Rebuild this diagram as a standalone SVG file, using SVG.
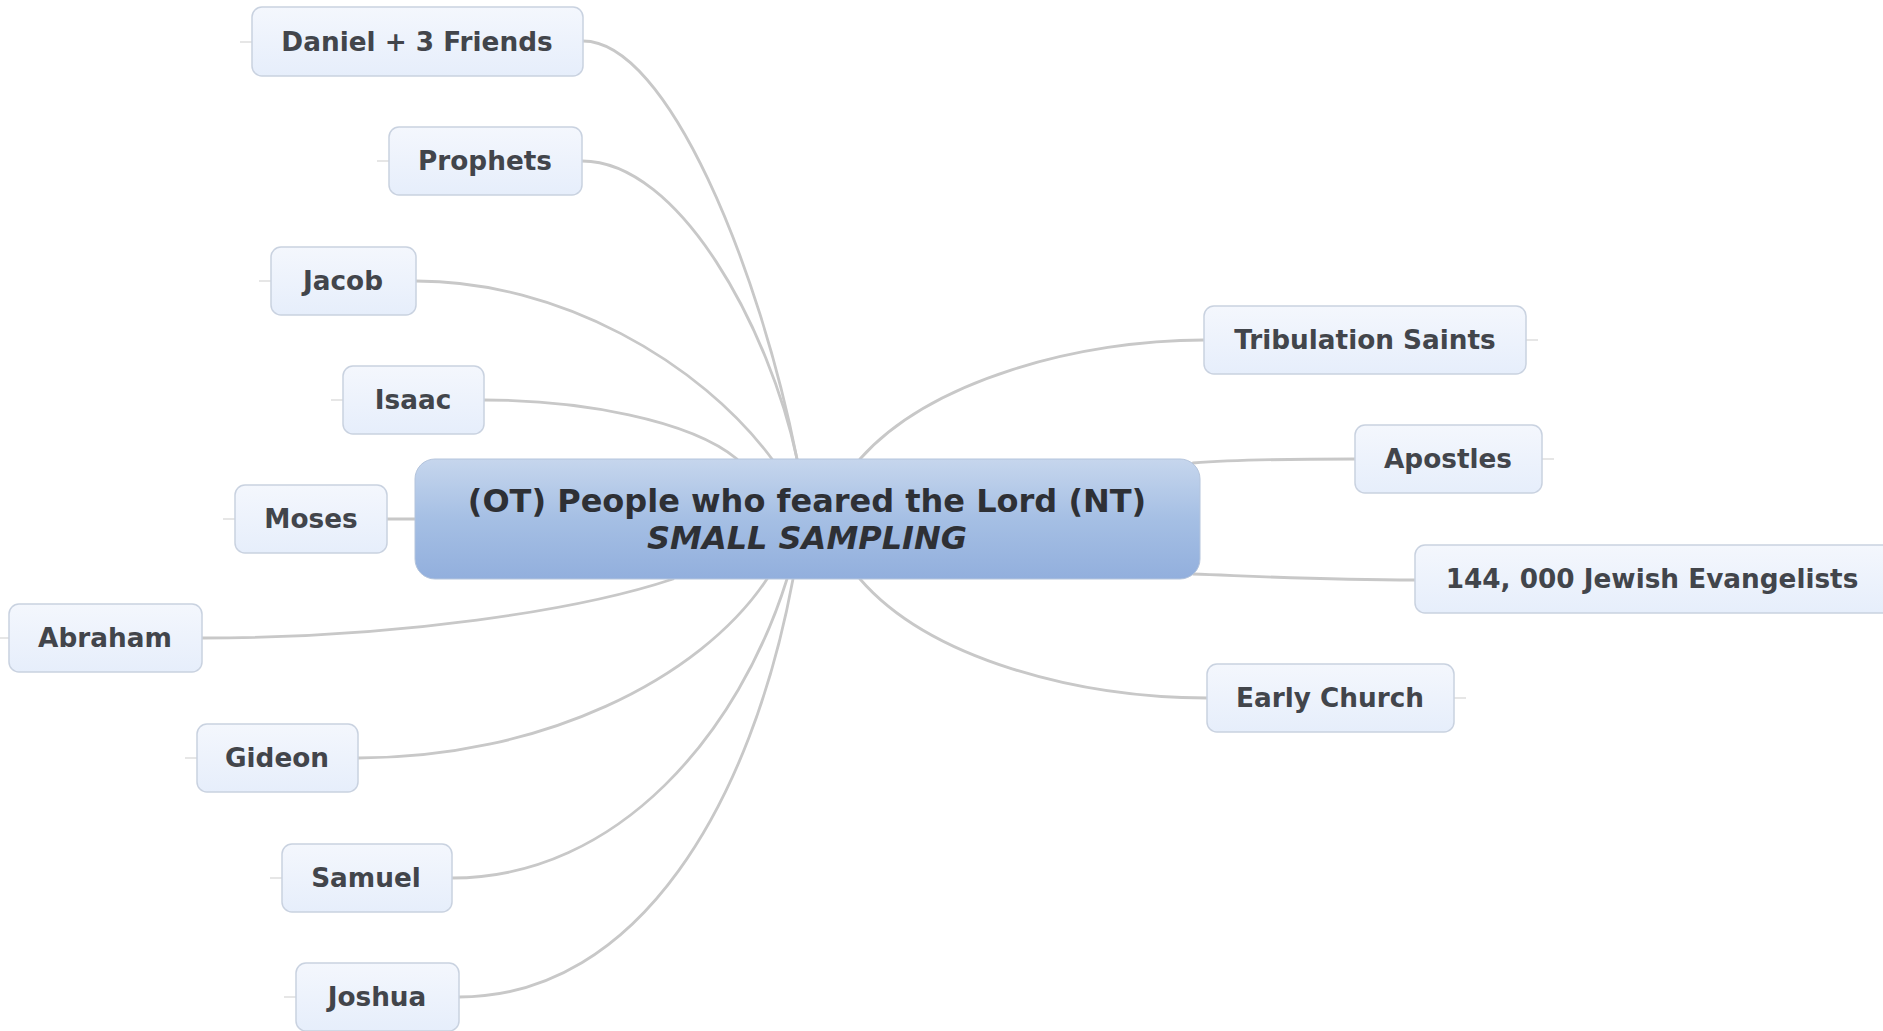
<svg xmlns="http://www.w3.org/2000/svg" width="1883" height="1031" viewBox="0 0 1883 1031">
<defs>
<linearGradient id="gChild" x1="0" y1="0" x2="0" y2="1">
<stop offset="0" stop-color="#f4f7fd"/>
<stop offset="1" stop-color="#e6eefb"/>
</linearGradient>
<linearGradient id="gCenter" x1="0" y1="0" x2="0" y2="1">
<stop offset="0" stop-color="#c6d6ed"/>
<stop offset="0.5" stop-color="#a5bfe4"/>
<stop offset="1" stop-color="#92afdd"/>
</linearGradient>
</defs>
<style>
.bg{fill:#ffffff}
.child rect{fill:url(#gChild);stroke:#c9d2e0;stroke-width:1.5}
.child text{font-family:"DejaVu Sans",Verdana,sans-serif;font-weight:bold;font-size:26.3px;fill:#42454b;text-anchor:middle}
.stub{stroke:#d6d6d6;stroke-width:1.2}
.conn path{fill:none;stroke:#c8c8c8;stroke-width:2.8;stroke-linecap:round}
.center rect{fill:url(#gCenter);stroke:#b4c4dc;stroke-width:1}
.center text{font-family:"DejaVu Sans",Verdana,sans-serif;font-weight:bold;font-size:32px;fill:#2e3035;text-anchor:middle}
</style>
<rect class="bg" x="0" y="0" width="1883" height="1031"/>
<g id="connectors" class="conn">
<path d="M583,41 C668,41 760,270 797,459"/>
<path d="M582,161 C680,161 770,330 797,459"/>
<path d="M416,281 C560,281 700,362 772,459"/>
<path d="M484,400 C580,400 690,420 737,459"/>
<path d="M387,519 L415,519"/>
<path d="M202,638 C400,638 580,610 673,579"/>
<path d="M358,758 C540,758 700,680 767,579"/>
<path d="M452,878 C620,878 740,730 787,579"/>
<path d="M459,997 C640,997 752,800 793,579"/>
<path d="M1204,340 C1080,340 930,380 860,459"/>
<path d="M1355,459 C1280,459 1230,460 1193,463"/>
<path d="M1415,580 C1320,580 1250,576 1193,574"/>
<path d="M1207,698 C1080,698 930,660 860,579"/>
</g>
<g id="node-center" class="center">
<rect x="415" y="459" width="785" height="120" rx="20"/>
<text x="807" y="512">(OT) People who feared the Lord (NT)</text>
<text x="807" y="549" font-style="italic">SMALL SAMPLING</text>
</g>
<g id="node-daniel" class="child">
<line class="stub" x1="240" y1="42" x2="252" y2="42"/>
<rect x="252" y="7" width="331" height="69" rx="10"/>
<text x="417" y="51">Daniel + 3 Friends</text>
</g>
<g id="node-prophets" class="child">
<line class="stub" x1="377" y1="161" x2="389" y2="161"/>
<rect x="389" y="127" width="193" height="68" rx="10"/>
<text x="485" y="170">Prophets</text>
</g>
<g id="node-jacob" class="child">
<line class="stub" x1="259" y1="281" x2="271" y2="281"/>
<rect x="271" y="247" width="145" height="68" rx="10"/>
<text x="343" y="290">Jacob</text>
</g>
<g id="node-isaac" class="child">
<line class="stub" x1="331" y1="400" x2="343" y2="400"/>
<rect x="343" y="366" width="141" height="68" rx="10"/>
<text x="413" y="409">Isaac</text>
</g>
<g id="node-moses" class="child">
<line class="stub" x1="223" y1="519" x2="235" y2="519"/>
<rect x="235" y="485" width="152" height="68" rx="10"/>
<text x="311" y="528">Moses</text>
</g>
<g id="node-abraham" class="child">
<line class="stub" x1="0" y1="638" x2="9" y2="638"/>
<rect x="9" y="604" width="193" height="68" rx="10"/>
<text x="105" y="647">Abraham</text>
</g>
<g id="node-gideon" class="child">
<line class="stub" x1="185" y1="758" x2="197" y2="758"/>
<rect x="197" y="724" width="161" height="68" rx="10"/>
<text x="277" y="767">Gideon</text>
</g>
<g id="node-samuel" class="child">
<line class="stub" x1="270" y1="878" x2="282" y2="878"/>
<rect x="282" y="844" width="170" height="68" rx="10"/>
<text x="366" y="887">Samuel</text>
</g>
<g id="node-joshua" class="child">
<line class="stub" x1="284" y1="997" x2="296" y2="997"/>
<rect x="296" y="963" width="163" height="68" rx="10"/>
<text x="377" y="1006">Joshua</text>
</g>
<g id="node-tribulation" class="child">
<line class="stub" x1="1526" y1="340" x2="1538" y2="340"/>
<rect x="1204" y="306" width="322" height="68" rx="10"/>
<text x="1365" y="349">Tribulation Saints</text>
</g>
<g id="node-apostles" class="child">
<line class="stub" x1="1542" y1="459" x2="1554" y2="459"/>
<rect x="1355" y="425" width="187" height="68" rx="10"/>
<text x="1448" y="468">Apostles</text>
</g>
<g id="node-144000" class="child">
<rect x="1415" y="545" width="478" height="68" rx="10"/>
<text x="1652" y="588">144, 000 Jewish Evangelists</text>
</g>
<g id="node-earlychurch" class="child">
<line class="stub" x1="1454" y1="698" x2="1466" y2="698"/>
<rect x="1207" y="664" width="247" height="68" rx="10"/>
<text x="1330" y="707">Early Church</text>
</g>
</svg>
